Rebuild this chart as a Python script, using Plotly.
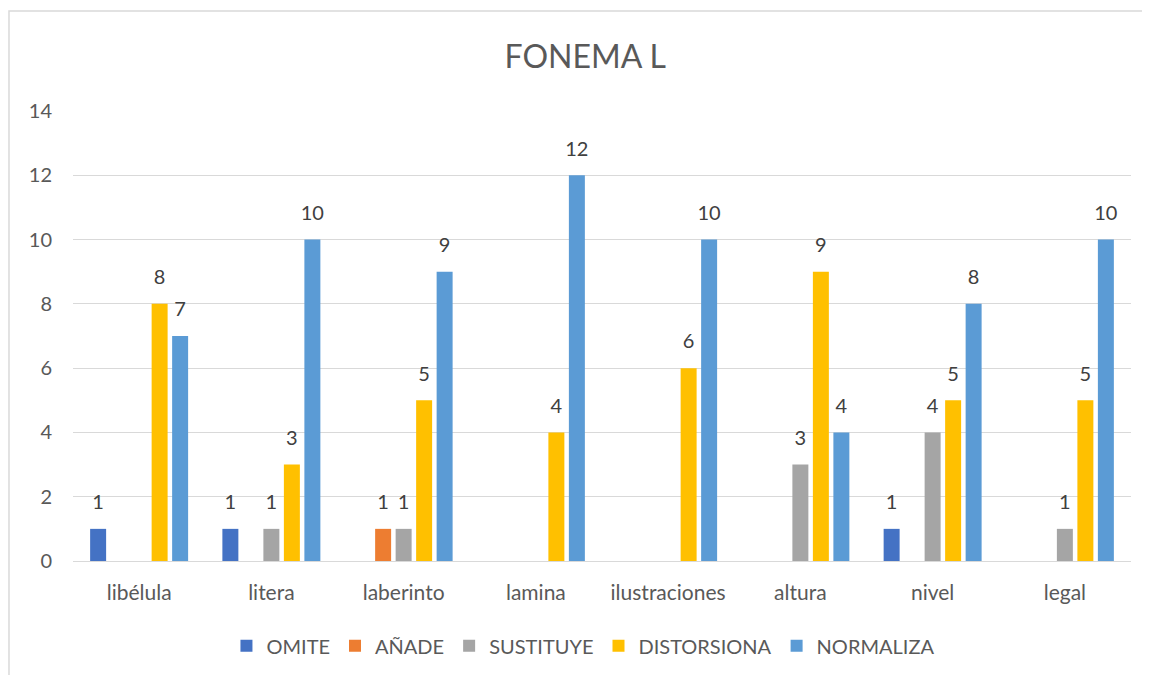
import plotly.graph_objects as go

categories = ["libélula", "litera", "laberinto", "lamina", "ilustraciones", "altura", "nivel", "legal"]
omite = [1, 1, None, None, None, None, 1, None]
anade = [None, None, 1, None, None, None, None, None]
sustituye = [None, 1, 1, None, None, 3, 4, 1]
distorsiona = [8, 3, 5, 4, 6, 9, 5, 5]
normaliza = [7, 10, 9, 12, 10, 4, 8, 10]

series = [
    ("OMITE", omite, "#4472C4"),
    ("AÑADE", anade, "#ED7D31"),
    ("SUSTITUYE", sustituye, "#A5A5A5"),
    ("DISTORSIONA", distorsiona, "#FFC000"),
    ("NORMALIZA", normaliza, "#5B9BD5"),
]

FONT = "Lato, Calibri, Carlito, sans-serif"
GAP = 0.225

fig = go.Figure()
for name, vals, color in series:
    fig.add_trace(go.Bar(
        name=name, x=categories, y=vals, marker_color=color,
        marker_line_width=0,
    ))
# data labels, grouped like the bars
for name, vals, color in series:
    fig.add_trace(go.Scatter(
        x=categories, y=vals, mode="markers+text",
        text=[("" if v is None else str(v)) for v in vals],
        textposition="top center", cliponaxis=False,
        marker=dict(size=22, opacity=0, color=color),
        textfont=dict(size=20, color="#404040", family=FONT),
        showlegend=False, hoverinfo="skip",
    ))

fig.update_layout(
    width=1150, height=675,
    paper_bgcolor="white", plot_bgcolor="white",
    margin=dict(l=65, r=27, t=103, b=122, autoexpand=False),
    barmode="group", bargap=GAP, bargroupgap=0.22,
    scattermode="group", scattergap=GAP,
    title=dict(text="FONEMA L", x=0.502, xanchor="center", y=0.927, yanchor="middle",
               font=dict(size=32, color="#595959", family=FONT)),
    font=dict(family=FONT, color="#595959", size=20),
    legend=dict(orientation="h", x=0.482, xanchor="center", y=-0.145, yanchor="top",
                font=dict(size=20, color="#595959", family=FONT), itemwidth=30,
                traceorder="normal"),
)
fig.update_yaxes(range=[0, 14], dtick=2, showgrid=True, gridcolor="#D9D9D9", gridwidth=1.3,
                 zeroline=True, zerolinecolor="#D9D9D9", zerolinewidth=1.3,
                 tickfont=dict(size=20, color="#595959"), ticks="", ticklabelstandoff=20)
fig.update_xaxes(showline=False, ticks="", tickfont=dict(size=21, color="#595959"),
                 ticklabelstandoff=17)

fig.add_shape(type="rect", xref="paper", yref="paper",
              x0=-0.0605, x1=1.05, y0=-0.35, y1=1.222,
              line=dict(color="#D9D9D9", width=1.5), fillcolor="rgba(0,0,0,0)", layer="below")

fig.write_html("out.html")
